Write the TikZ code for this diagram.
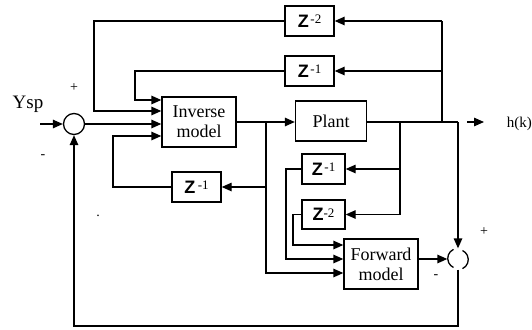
\documentclass[tikz,border=0pt]{standalone}
\usepackage{fontspec}
\setmainfont{Liberation Serif}
\newfontfamily\zf{Liberation Sans}
\usetikzlibrary{arrows.meta}
\newcommand\zlab[2]{{\zf\bfseries\fontsize{18}{18}\selectfont Z}#1\raisebox{0.7ex}{\fontsize{13}{13}\selectfont #2}}
\begin{document}
\begin{tikzpicture}[x=1pt,y=-1pt, line width=1.3pt,
 arr/.style={-{Triangle[length=10pt,width=8.5pt]}},
 blk/.style={draw, rectangle, inner sep=0pt, align=center},
 bigtxt/.style={font=\fontsize{18}{20}\selectfont},
 sgn/.style={font=\fontsize{14}{14}\selectfont, inner sep=0pt}]
\useasboundingbox (0,0) rectangle (532,329);
% blocks
\node[blk, minimum width=74pt, minimum height=50pt, bigtxt] (inv) at (199,122) {Inverse\\model};
\node[blk, minimum width=71pt, minimum height=40pt, bigtxt] (plant) at (331,121) {Plant};
\node[blk, minimum width=74pt, minimum height=50pt, bigtxt] (fwd) at (381,264) {Forward\\model};
\node[blk, minimum width=49pt, minimum height=30pt] (zA) at (309.5,21) {\zlab{\,}{-2}};
\node[blk, minimum width=49pt, minimum height=30pt] (zB) at (309.5,71) {\zlab{\,}{-1}};
\node[blk, minimum width=49pt, minimum height=30pt] (zC) at (196.5,187) {\zlab{\ }{-1}};
\node[blk, minimum width=43pt, minimum height=30pt] (zD) at (323.5,169) {\zlab{\,}{-1}};
\node[blk, minimum width=43pt, minimum height=29pt] (zE) at (323.5,214.5) {\zlab{}{-2}};
\node[circle, draw, minimum size=21pt, inner sep=0pt] (s1) at (74,124) {};
\node[circle, minimum size=20pt, inner sep=0pt] (s2) at (458,259) {};
\draw (s2.115) arc[start angle=115, end angle=245, radius=10pt];
\draw (s2.-65) arc[start angle=-65, end angle=65, radius=10pt];
% coordinates
\coordinate (yin) at (40,124);
\coordinate (bo) at (266,122);
\coordinate (po) at (400,122);
\coordinate (ro) at (442,122);
\coordinate (oe) at (458,122);
\coordinate (hs) at (467,122);
\coordinate (he) at (484,122);
% labels
\node[font=\fontsize{19}{19}\selectfont] (ysp) at (28,104) {Ysp};
\node[anchor=west, font=\fontsize{15}{15}\selectfont] (hk) at (503,124) {h(k)};
\node[sgn] (p1) at (74,88) {+};
\node[sgn] (m1) at (43,157) {-};
\node[sgn] (p2) at (484,232) {+};
\node[sgn] (m2) at (436,277) {-};
\node[sgn] (dot) at (98,216) {.};
% connectors
\draw[arr] (yin) -- (s1.west);
\draw[arr] (s1.east) -- (s1.east -| inv.west);
\draw[arr] (inv.east |- bo) -- (bo -| plant.west);
\draw (plant.east |- oe) -- (oe);
\draw[arr] (hs) -- (he);
\draw (ro) -- (ro |- zA);
\draw[arr] (ro |- zA) -- (zA.east);
\draw[arr] (ro |- zB) -- (zB.east);
\draw[arr] (zA.west) -- (94,21) -- (94,111) -- (inv.west |- 0,111);
\draw[arr] (zB.west) -- (135,71) -- (135,100) -- (inv.west |- 0,100);
\draw[arr] (bo |- zC) -- (zC.east);
\draw[arr] (zC.west) -- (113,187) -- (113,136) -- (inv.west |- 0,136);
\draw[arr] (bo) -- (266,273) -- (fwd.west |- 0,273);
\draw (po) -- (400,214.5);
\draw[arr] (po |- zD) -- (zD.east);
\draw[arr] (400,214.5) -- (zE.east);
\draw[arr] (zD.west) -- (286,169) -- (286,259) -- (fwd.west |- 0,259);
\draw[arr] (zE.west) -- (293,214.5) -- (293,245) -- (fwd.west |- 0,245);
\draw[arr] (fwd.east |- s2) -- (s2.west);
\draw[arr] (oe) -- (s2.north);
\draw[arr] (s2.south) -- (458,326) -- (s1.south |- 0,326) -- (s1.south);
\end{tikzpicture}
\end{document}
